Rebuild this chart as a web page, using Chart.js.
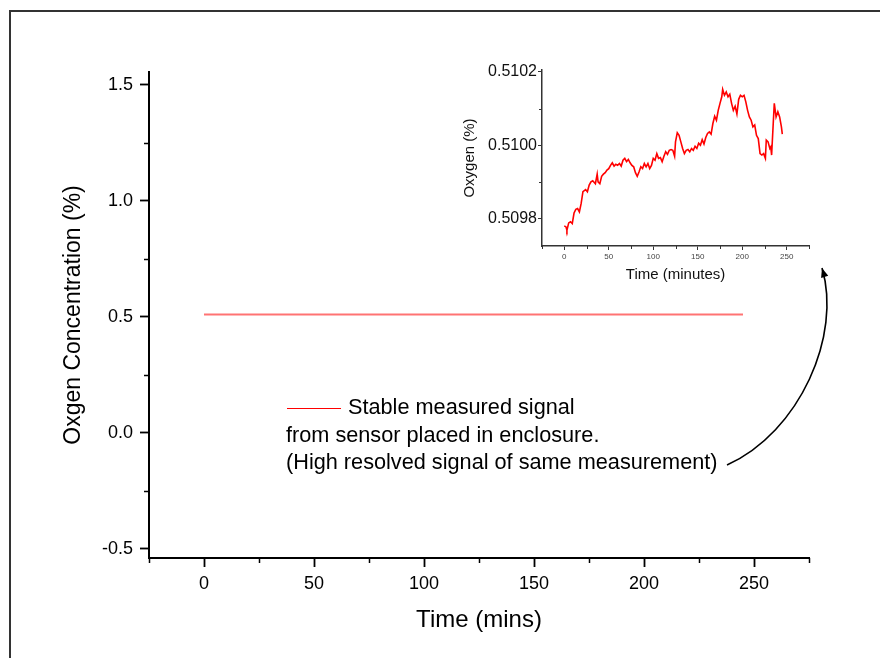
<!DOCTYPE html>
<html><head><meta charset="utf-8">
<script src="https://cdn.jsdelivr.net/npm/chart.js@4.4.1/dist/chart.umd.min.js"></script>
<style>
html,body{margin:0;padding:0;background:#fff;}
#wrap{position:relative;width:880px;height:658px;overflow:hidden;background:#fff;}
#frame{position:absolute;left:9px;top:10px;width:900px;height:700px;border-top:2px solid #333;border-left:2px solid #333;}
#main{position:absolute;left:0;top:0;}
#inset{position:absolute;left:450px;top:55px;}
</style></head><body>
<div id="wrap"><div id="frame"></div>
<canvas id="main" width="880" height="658"></canvas>
<canvas id="inset" width="370" height="235"></canvas>
</div>
<script>
// ---- data ----
const timeMin = [0,2,3,5,7,9,11,13,15,17,19,21,24,26,28,30,32,35,37,38,40,42,44,46,48,50,52,54,56,58,60,62,64,66,68,70,72,74,76,78,80,82,84,86,88,90,92,94,96,98,100,102,104,106,108,110,112,114,116,118,120,122,124,125,127,129,131,133,135,137,139,141,143,145,147,149,151,153,155,157,159,161,163,165,167,169,171,173,175,177,178,180,182,184,186,188,190,192,194,196,198,200,202,204,206,208,210,212,214,216,218,220,222,224,226,227,229,231,232,233,235,236,238,240,242,244,245];
const oxygenPct = [0.509780,0.509777,0.509768,0.509788,0.509791,0.509786,0.509815,0.509825,0.509827,0.509818,0.509841,0.509873,0.509879,0.509873,0.509891,0.509900,0.509903,0.509895,0.509921,0.509900,0.509895,0.509915,0.509921,0.509925,0.509932,0.509936,0.509945,0.509952,0.509943,0.509948,0.509945,0.509950,0.509943,0.509959,0.509964,0.509955,0.509961,0.509952,0.509945,0.509941,0.509925,0.509915,0.509927,0.509941,0.509936,0.509950,0.509941,0.509950,0.509936,0.509945,0.509964,0.509959,0.509977,0.509964,0.509966,0.509955,0.509970,0.509982,0.509975,0.509986,0.509988,0.509986,0.509970,0.510009,0.510034,0.510027,0.510009,0.509991,0.509977,0.509986,0.509988,0.509982,0.509991,0.509986,0.509997,0.509991,0.510005,0.510000,0.510015,0.510003,0.510021,0.510032,0.510036,0.510030,0.510059,0.510079,0.510068,0.510095,0.510114,0.510132,0.510152,0.510136,0.510145,0.510132,0.510139,0.510114,0.510095,0.510106,0.510085,0.510125,0.510136,0.510132,0.510136,0.510118,0.510095,0.510077,0.510068,0.510050,0.510055,0.510027,0.510018,0.509977,0.509973,0.509977,0.509964,0.510014,0.510009,0.509991,0.509995,0.509973,0.510068,0.510114,0.510077,0.510091,0.510077,0.510050,0.510030];

const mainXMajor = [0,50,100,150,200,250];
const mainXMinor = [-25,25,75,125,175,225,275];
const mainYMajor = [-0.5,0,0.5,1.0,1.5];
const mainYMinor = [-0.25,0.25,0.75,1.25];
const insetXMajor = [0,50,100,150,200,250];
const insetXMinor = [-25,25,75,125,175,225,275];
const insetYMajor = [0.5098,0.5100,0.5102];
const insetYMinor = [0.5099,0.5101];

const legendLines = ['Stable measured signal','from sensor placed in enclosure.','(High resolved signal of same measurement)'];
const mainXTitle = 'Time (mins)';
const mainYTitle = 'Oxgen Concentration (%)';
const insetXTitle = 'Time (minutes)';
const insetYTitle = 'Oxygen (%)';

const FONT = '"Liberation Sans", Arial, Helvetica, sans-serif';
const points = timeMin.map((t,i)=>({x:t, y:oxygenPct[i]}));

function minorTicks(chart, xs, ys, len, color, width){
  const {ctx} = chart; const x = chart.scales.x, y = chart.scales.y;
  ctx.save(); ctx.strokeStyle = color; ctx.lineWidth = width;
  xs.forEach(v=>{const p = Math.round(x.getPixelForValue(v))+0.5; ctx.beginPath(); ctx.moveTo(p, x.top); ctx.lineTo(p, x.top+len); ctx.stroke();});
  ys.forEach(v=>{const p = Math.round(y.getPixelForValue(v))+0.5; ctx.beginPath(); ctx.moveTo(y.right, p); ctx.lineTo(y.right-len, p); ctx.stroke();});
  ctx.restore();
}

const mainDecor = {
  id:'mainDecor',
  afterDraw(chart){
    minorTicks(chart, mainXMinor, mainYMinor, 5, '#000', 1.5);
    const ctx = chart.ctx;
    ctx.save();
    // legend sample line
    ctx.strokeStyle = '#ff0000'; ctx.lineWidth = 1.2;
    ctx.beginPath(); ctx.moveTo(287, 408.5); ctx.lineTo(341, 408.5); ctx.stroke();
    ctx.fillStyle = '#000'; ctx.font = '21.7px ' + FONT; ctx.textBaseline = 'middle'; ctx.textAlign = 'left';
    ctx.fillText(legendLines[0], 348, 408);
    ctx.fillText(legendLines[1], 286, 436);
    ctx.fillText(legendLines[2], 286, 463);
    // curved arrow
    ctx.strokeStyle = '#000'; ctx.lineWidth = 1.6;
    const sx=727, sy=465, c1x=800, c1y=432, c2x=842, c2y=335, ex=822, ey=268;
    ctx.beginPath(); ctx.moveTo(sx,sy); ctx.bezierCurveTo(c1x,c1y,c2x,c2y,ex,ey); ctx.stroke();
    const ang = Math.atan2(ey-c2y, ex-c2x);
    const L=10, W=0.38;
    ctx.fillStyle='#000';
    ctx.beginPath(); ctx.moveTo(ex,ey);
    ctx.lineTo(ex - L*Math.cos(ang-W), ey - L*Math.sin(ang-W));
    ctx.lineTo(ex - L*Math.cos(ang+W), ey - L*Math.sin(ang+W));
    ctx.closePath(); ctx.fill();
    ctx.restore();
  }
};

new Chart(document.getElementById('main'), {
  type:'line',
  data:{datasets:[{data:points, borderColor:'rgba(255,0,0,0.55)', borderWidth:2, pointRadius:0, tension:0, fill:false}]},
  options:{
    responsive:false, animation:false, devicePixelRatio:1,
    layout:{padding:{left:0,right:71,top:72,bottom:0}},
    plugins:{legend:{display:false}, tooltip:{enabled:false}},
    scales:{
      x:{type:'linear', min:-25, max:275,
        afterBuildTicks:s=>{s.ticks = mainXMajor.map(v=>({value:v}));},
        afterFit:s=>{s.height=100;},
        grid:{drawOnChartArea:false, tickLength:9, tickWidth:1.8, tickColor:'#000'},
        border:{display:true, color:'#000', width:2},
        ticks:{color:'#000', font:{family:FONT, size:18}, padding:6, autoSkip:false, maxRotation:0, callback:v=>String(v)},
        title:{display:true, text:mainXTitle, color:'#000', font:{family:FONT, size:24}, padding:{top:0,bottom:23}}
      },
      y:{type:'linear', min:-0.54, max:1.556,
        afterBuildTicks:s=>{s.ticks = mainYMajor.map(v=>({value:v}));},
        afterFit:s=>{s.width=149;},
        grid:{drawOnChartArea:false, tickLength:9, tickWidth:1.8, tickColor:'#000'},
        border:{display:true, color:'#000', width:2},
        ticks:{color:'#000', font:{family:FONT, size:18}, padding:7, autoSkip:false, callback:v=>Number(v).toFixed(1)},
        title:{display:true, text:mainYTitle, color:'#000', font:{family:FONT, size:23}, padding:{top:60,bottom:0}}
      }
    }
  },
  plugins:[mainDecor]
});

const insetDecor = {
  id:'insetDecor',
  afterDraw(chart){ minorTicks(chart, insetXMinor, insetYMinor, 3, '#333', 1); }
};

new Chart(document.getElementById('inset'), {
  type:'line',
  data:{datasets:[{data:points, borderColor:'#ff0000', borderWidth:1.6, pointRadius:0, tension:0, fill:false}]},
  options:{
    responsive:false, animation:false, devicePixelRatio:1,
    layout:{padding:{left:0,right:11,top:15,bottom:0}},
    plugins:{legend:{display:false}, tooltip:{enabled:false}},
    scales:{
      x:{type:'linear', min:-25, max:275,
        afterBuildTicks:s=>{s.ticks = insetXMajor.map(v=>({value:v}));},
        afterFit:s=>{s.height=44;},
        grid:{drawOnChartArea:false, tickLength:4, tickWidth:1, tickColor:'#333'},
        border:{display:true, color:'#333', width:1.5},
        ticks:{color:'#444', font:{family:FONT, size:8}, padding:2, autoSkip:false, maxRotation:0, callback:v=>String(v)},
        title:{display:true, text:insetXTitle, color:'#111', font:{family:FONT, size:15}, padding:{top:0,bottom:6}}
      },
      y:{type:'linear', min:0.509725, max:0.510205,
        afterBuildTicks:s=>{s.ticks = insetYMajor.map(v=>({value:v}));},
        afterFit:s=>{s.width=92;},
        grid:{drawOnChartArea:false, tickLength:4, tickWidth:1, tickColor:'#333'},
        border:{display:true, color:'#333', width:1.5},
        ticks:{color:'#111', font:{family:FONT, size:16}, padding:1, autoSkip:false, callback:v=>Number(v).toFixed(4)},
        title:{display:true, text:insetYTitle, color:'#111', font:{family:FONT, size:15}, padding:{top:11,bottom:0}}
      }
    }
  },
  plugins:[insetDecor]
});
</script>
</body></html>
